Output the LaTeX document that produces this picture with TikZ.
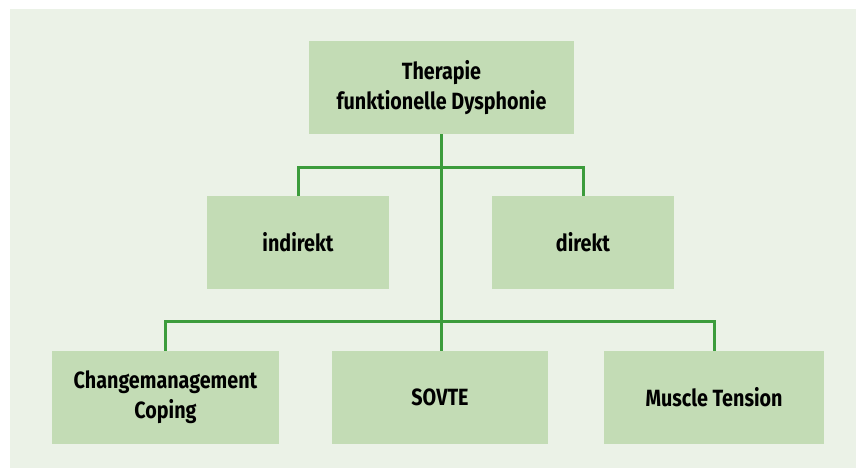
\documentclass[tikz,border=0pt]{standalone}
\usepackage{fontspec}
\setmainfont{Fira Sans}[FakeStretch=0.84]
\definecolor{bgc}{HTML}{EBF2E7}
\definecolor{boxc}{HTML}{C3DCB5}
\definecolor{linec}{HTML}{3C9C3C}
\begin{document}
\begin{tikzpicture}[x=1pt,y=-1pt,
  box/.style={fill=boxc, draw=none, inner sep=0pt, align=center,
    font=\fontsize{23.5}{30}\selectfont\bfseries},
  conn/.style={draw=linec, line width=3pt}]
\useasboundingbox (0,0) rectangle (856,468);
\fill[bgc] (10,9) rectangle (856,468);
\node[box, minimum width=265pt, minimum height=93pt] (top) at (441.5,87.5) {Therapie\\funktionelle Dysphonie};
\node[box, minimum width=182pt, minimum height=93pt] (ind) at (298,242.5) {indirekt};
\node[box, minimum width=182pt, minimum height=93pt] (dir) at (583,242.5) {direkt};
\node[box, minimum width=227pt, minimum height=93pt] (chg) at (165.5,397.5) {Changemanagement\\Coping};
\node[box, minimum width=216pt, minimum height=93pt] (sov) at (440,397.5) {SOVTE};
\node[box, minimum width=220pt, minimum height=93pt] (mus) at (714,397.5) {Muscle Tension};
\coordinate (j1) at (441.5,167);
\coordinate (j2) at (441.5,321);
\draw[conn] (top.south) -- (sov.north -| top.south);
\draw[conn] (ind.north) |- (j1) -| (dir.north);
\draw[conn] (chg.north) |- (j2) -| (mus.north);
\end{tikzpicture}
\end{document}
